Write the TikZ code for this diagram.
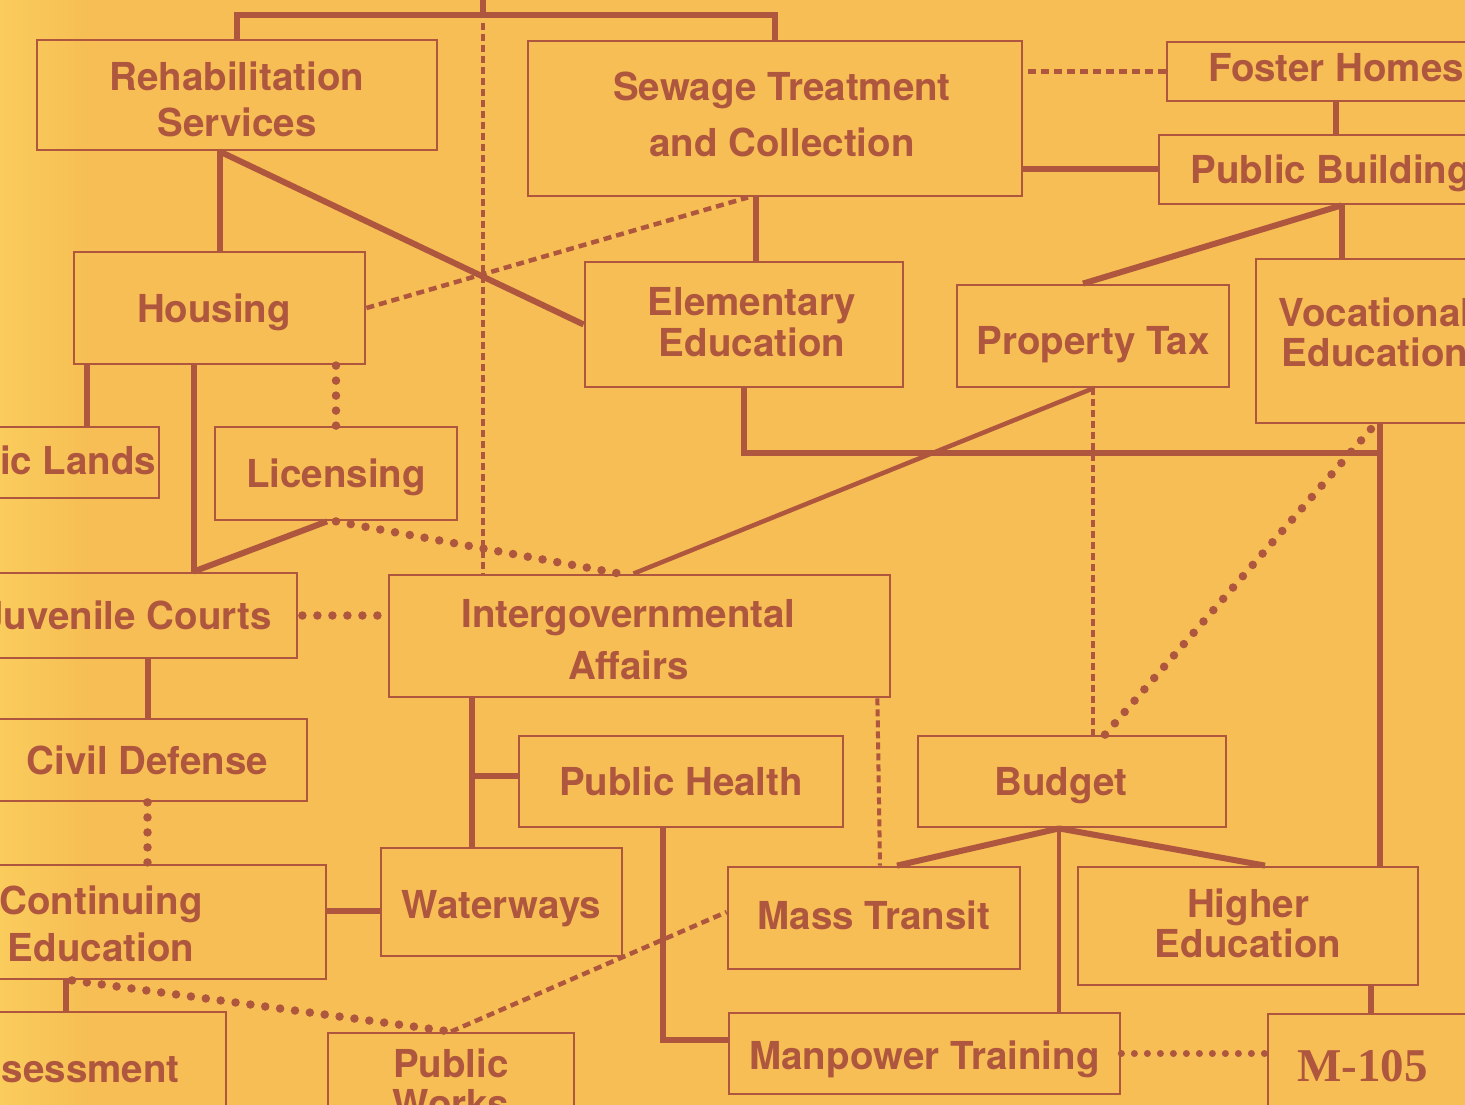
\documentclass[tikz,border=0pt]{standalone}
\usepackage{fontspec}
\setmainfont{TeX Gyre Heros}
\newfontfamily\numfont{Liberation Serif}

\definecolor{paper}{RGB}{246,190,84}
\definecolor{paperlight}{RGB}{250,204,92}
\definecolor{ink}{RGB}{174,86,62}

\tikzset{
  box/.style={draw=ink, line width=2.8pt, text=ink, inner sep=0pt, align=center,
    text height=28pt, text depth=0pt,
    font=\bfseries\fontsize{38.5}{44}\selectfont},
  conn/.style={draw=ink, line width=6pt},
  rounddots/.style={draw=ink, line width=8.5pt, line cap=round, dash pattern=on 0pt off 15pt},
  shortdash/.style={draw=ink, line width=4.5pt, dash pattern=on 8pt off 5pt},
  tickline/.style={draw=ink, line width=4pt, dash pattern=on 7pt off 4pt},
}

\begin{document}
\begin{tikzpicture}[x=1pt,y=-1pt]
  \useasboundingbox (0,0) rectangle (1465,1105);
  \clip (0,0) rectangle (1465,1105);
  \fill[paper] (0,0) rectangle (1465,1105);
  \shade[left color=paperlight, right color=paper] (0,0) rectangle (90,1105);

  % boxes
  \node[box, minimum width=400, minimum height=110, text height=84pt] (rehab) at (237,95) {Rehabilitation\\[2pt]Services};
  \node[box, minimum width=494, minimum height=155, text height=84pt, text depth=7pt] (sewage) at (775,118.5) {\hspace*{14pt}Sewage Treatment\\[12pt]\hspace*{14pt}and Collection};
  \node[box, minimum width=338, minimum height=59, text depth=7pt] (foster) at (1336,71.5) {Foster Homes};
  \node[box, minimum width=365, minimum height=69] (pubbuild) at (1341.5,169.5) {Public Buildings};
  \node[box, minimum width=291, minimum height=112] (housing) at (219.5,308) {Housing\hspace*{11pt}};
  \node[box, minimum width=318, minimum height=125, text height=69pt, text depth=5pt] (elem) at (744,324.5) {\hspace*{16pt}Elementary\\[-3pt]\hspace*{16pt}Education};
  \node[box, minimum width=272, minimum height=102, text height=36pt] (proptax) at (1093,336) {Property Tax};
  \node[box, minimum width=238, minimum height=164, text height=68pt, text depth=18pt] (vocat) at (1375,341) {Vocational\\[-4pt]Education};
  \node[box, minimum width=245, minimum height=71, text depth=5pt] (publands) at (36.5,462.5) {Public Lands};
  \node[box, minimum width=242, minimum height=93] (licensing) at (336,473.5) {Licensing};
  \node[box, minimum width=340, minimum height=85] (juvenile) at (127,615.5) {Juvenile Courts};
  \node[box, minimum width=501, minimum height=122, text height=86pt] (intergov) at (639.5,636) {Intergovernmental\hspace*{22pt}\\[8pt]Affairs\hspace*{22pt}};
  \node[box, minimum width=319, minimum height=82] (civil) at (147.5,760) {Civil Defense};
  \node[box, minimum width=324, minimum height=91] (pubhealth) at (681,781.5) {Public Health};
  \node[box, minimum width=308, minimum height=91] (budget) at (1072,781.5) {Budget\hspace*{22pt}};
  \node[box, minimum width=450, minimum height=114, text height=78pt] (contin) at (101,922) {Continuing\\[3pt]Education};
  \node[box, minimum width=241, minimum height=108, text height=32pt] (waterways) at (501.5,902) {Waterways};
  \node[box, minimum width=292, minimum height=102, text depth=6pt] (masstransit) at (874,918) {Mass Transit};
  \node[box, minimum width=340, minimum height=118, text height=68pt, text depth=6pt] (highered) at (1248,926) {Higher\\[-4pt]Education};
  \node[box, minimum width=320, minimum height=112] (assess) at (66,1068) {Assessment};
  \node[box, minimum width=246, minimum height=100, text height=68pt] (pubworks) at (451,1083) {Public\\[-4pt]Works};
  \node[box, minimum width=391, minimum height=81, text height=31pt] (manpower) at (924.5,1053.5) {Manpower Training};
  \node[box, minimum width=240, minimum height=102, text width=182, align=left, text height=33pt,
    font=\numfont\bfseries\fontsize{47}{56}\selectfont] (mnum) at (1388,1065) {M-105};

  % solid links
  \coordinate (topbar) at (483,15);
  \coordinate (topin) at (483,-20);
  \draw[conn] (rehab.north) |- (topbar) -| (sewage.north);
  \draw[conn] (topbar) -- (topin);
  \draw[conn] (housing.north) -- (housing.north |- rehab.south);
  \draw[conn] (housing.north |- rehab.south) -- (elem.west);
  \draw[conn] ([xshift=12pt]elem.north) -- ([xshift=12pt]elem.north |- sewage.south);
  \draw[conn] (pubbuild.west) -- (pubbuild.west -| sewage.east);
  \draw[conn] (foster.south) -- (foster.south |- pubbuild.north);
  \draw[conn] (pubbuild.south) -- ([xshift=-10pt]proptax.north);
  \draw[conn] (pubbuild.south) -- (pubbuild.south |- vocat.north);
  \coordinate (vjoin) at (1380,453);
  \draw[conn] (elem.south) |- (vjoin);
  \draw[conn] (vjoin |- vocat.south) -- (vjoin |- highered.north);
  \draw[conn, line width=4.5pt] (proptax.south) -- ([xshift=-6pt]intergov.north);
  \coordinate (jtop) at ([xshift=121pt]housing.south west);
  \draw[conn] ([xshift=14pt]housing.south west) -- ([xshift=14pt]housing.south west |- publands.north);
  \draw[conn] (jtop) -- (jtop |- juvenile.north);
  \draw[conn] ([xshift=-9pt]licensing.south) -- (jtop |- juvenile.north);
  \draw[conn] (civil.north) -- (civil.north |- juvenile.south);
  \draw[conn] ([yshift=-9pt]waterways.west) -- ([yshift=-9pt]waterways.west -| contin.east);
  \coordinate (igfoot) at ([xshift=84pt]intergov.south west);
  \draw[conn] (igfoot) -- (igfoot |- waterways.north);
  \draw[conn] ([yshift=6pt]pubhealth.west) -- ([yshift=6pt]pubhealth.west -| igfoot);
  \draw[conn] ([xshift=-18pt]pubhealth.south) |- ([yshift=14pt]manpower.west);
  \draw[conn] (assess.north) -- (assess.north |- contin.south);
  \coordinate (bfoot) at ([xshift=-13pt]budget.south);
  \draw[conn] (bfoot) -- ([xshift=23pt]masstransit.north);
  \draw[conn] (bfoot) -- ([xshift=17pt]highered.north);
  \draw[conn, line width=4.5pt] (bfoot) -- (bfoot |- manpower.north);
  \draw[conn] ([xshift=123pt]highered.south) -- ([xshift=123pt]highered.south |- mnum.north);

  % dotted and dashed links
  \draw[tickline] ([yshift=-8pt]topbar) -- (topbar |- intergov.north);
  \draw[shortdash] (housing.east) -- ([xshift=-27pt]sewage.south);
  \draw[shortdash] (foster.west) -- (foster.west -| sewage.east);
  \draw[tickline] (proptax.south) -- (proptax.south |- budget.north);
  \draw[rounddots] ([xshift=33pt]budget.north) -- (vocat.south);
  \draw[rounddots] (licensing.north) -- (licensing.north |- housing.south);
  \draw[rounddots] (licensing.south) -- ([xshift=-20pt]intergov.north);
  \draw[rounddots, dash phase=11pt] (juvenile.east) -- (juvenile.east -| intergov.west);
  \draw[rounddots] (civil.south) -- (civil.south |- contin.north);
  \draw[tickline] ([xshift=-14pt]intergov.south east) -- ([xshift=6pt]masstransit.north);
  \draw[rounddots] ([xshift=-29pt]contin.south) -- (pubworks.north);
  \draw[shortdash] (pubworks.north) -- ([yshift=6pt]masstransit.west);
  \draw[rounddots, line width=7pt, dash pattern=on 0pt off 13pt] (manpower.east) -- (manpower.east -| mnum.west);
\end{tikzpicture}
\end{document}
